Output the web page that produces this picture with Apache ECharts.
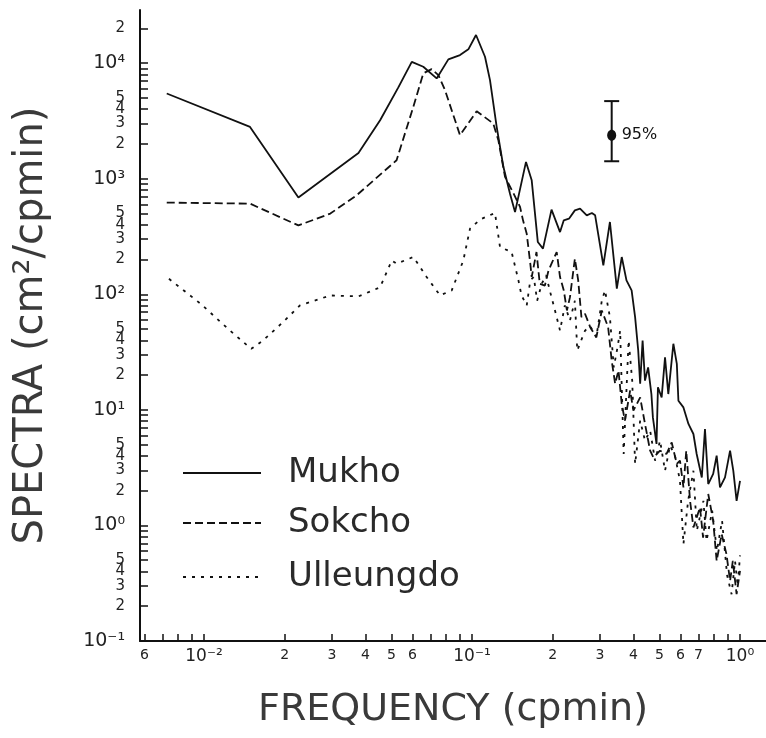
<!DOCTYPE html>
<html><head><meta charset="utf-8">
<script src="https://cdn.jsdelivr.net/npm/echarts@6/dist/echarts.min.js"></script>
<style>html,body{margin:0;padding:0;background:#fff}#c{width:766px;height:738px}</style>
</head><body><div id="c"></div>
<script>
// ---- data (frequency in cpmin, spectra in cm^2/cpmin) ----
const mukhoFreq = [0.00726,0.01485,0.0225,0.0377,0.0454,0.0531,0.0596,0.0658,0.0738,0.0816,0.0902,0.0969,0.1035,0.1118,0.1167,0.1236,0.131,0.1386,0.1447,0.159,0.167,0.176,0.184,0.198,0.213,0.220,0.230,0.242,0.253,0.268,0.280,0.288,0.309,0.327,0.347,0.362,0.377,0.394,0.406,0.417,0.424,0.433,0.442,0.454,0.467,0.473,0.488,0.494,0.510,0.525,0.540,0.564,0.581,0.589,0.615,0.642,0.670,0.689,0.720,0.740,0.761,0.794,0.818,0.842,0.879,0.918,0.944,0.971,1.0];
const mukhoSpec = [5460,2805,686,1671,3206,6160,10260,9290,7370,10770,11730,13150,17500,11350,7130,2805,1260,740,514,1396,968,283,248,540,345,436,451,532,551,482,505,482,178,422,112,210,132,108,63.4,32.6,16.8,39.8,17.9,23.3,13.7,8.6,5.07,15.7,12.8,28.5,13.7,37.3,25.0,12.0,10.5,7.55,6.18,4.15,2.60,6.83,2.28,2.79,4.01,2.13,2.60,4.43,2.97,1.63,2.43];

const sokchoFreq = [0.00726,0.01485,0.0225,0.0296,0.0371,0.0523,0.0604,0.0658,0.0707,0.0749,0.0793,0.0902,0.1041,0.120,0.1254,0.1328,0.1426,0.1511,0.155,0.160,0.165,0.167,0.174,0.179,0.187,0.193,0.198,0.207,0.213,0.220,0.226,0.232,0.242,0.249,0.256,0.264,0.276,0.291,0.305,0.322,0.332,0.342,0.352,0.362,0.372,0.389,0.400,0.424,0.442,0.462,0.475,0.503,0.532,0.556,0.581,0.597,0.615,0.630,0.651,0.670,0.709,0.728,0.761,0.794,0.818,0.854,0.890,0.918,0.940,0.971,1.0];
const sokchoSpec = [621,608,394,499,718,1443,4190,8150,8870,7870,5830,2377,3837,3003,2153,1035,752,569,436,334,184,141,232,123,119,161,184,232,141,108,72.4,94.4,203,132,63.4,67.8,51.9,42.5,72.4,51.9,26.7,16.8,21.9,11.2,8.06,14.7,9.84,12.8,7.55,4.43,3.87,4.43,4.15,5.22,3.4,3.63,2.13,4.43,1.63,0.96,1.43,0.785,1.87,1.10,0.493,0.841,0.564,0.331,0.493,0.254,0.404];

const ulleungdoFreq = [0.0074,0.0097,0.0125,0.0150,0.0166,0.0197,0.0228,0.0296,0.0377,0.0454,0.0502,0.0523,0.0604,0.0677,0.0760,0.0840,0.0928,0.0983,0.1071,0.1218,0.1272,0.1405,0.149,0.153,0.160,0.165,0.170,0.175,0.182,0.189,0.195,0.204,0.213,0.222,0.232,0.242,0.247,0.264,0.276,0.291,0.305,0.3135,0.327,0.338,0.350,0.357,0.368,0.384,0.396,0.406,0.424,0.442,0.462,0.482,0.503,0.525,0.548,0.572,0.597,0.615,0.640,0.670,0.690,0.730,0.750,0.787,0.820,0.857,0.895,0.930,0.958,0.980,1.0];
const ulleungdoSpec = [136,83,48.5,33.7,39.8,57.3,80,97.7,95.8,115,196,184,210,141,97.7,108,196,370,443,505,256,232,132,97.7,80,132,141,88,123,146,108,72.4,48.5,80,59.3,88,32.6,48.5,53,42.5,88,108,63.4,23.3,36,48.5,4.15,39.8,17.9,3.4,8.06,5.41,6.61,3.63,5.41,2.97,4.9,4.0,2.43,0.689,1.63,2.97,0.9,1.63,0.735,1.34,0.603,1.10,0.37,0.254,0.493,0.30,0.55];

// 95% confidence bar
const ciFreq = [0.332];
const ciLow = [1415];
const ciHigh = [4690];
const ciMid = [2378];
const ciLabel = '95%';

const seriesNames = ['Mukho','Sokcho','Ulleungdo'];

// ---- tick labels ----
const xTickValues = [0.006,0.007,0.008,0.009,0.01,0.02,0.03,0.04,0.05,0.06,0.07,0.08,0.09,0.1,0.2,0.3,0.4,0.5,0.6,0.7,0.8,0.9,1];
const xLabelValues = [0.006,0.01,0.02,0.03,0.04,0.05,0.06,0.1,0.2,0.3,0.4,0.5,0.6,0.7,1];
const xLabelTexts  = ['6','10⁻²','2','3','4','5','6','10⁻¹','2','3','4','5','6','7','10⁰'];

const yTickValues = [0.1,0.2,0.3,0.4,0.5,0.6,0.7,0.8,0.9,1,2,3,4,5,6,7,8,9,10,20,30,40,50,60,70,80,90,100,200,300,400,500,600,700,800,900,1000,2000,3000,4000,5000,6000,7000,8000,9000,10000,20000];
const yLabelValues = [0.1,0.2,0.3,0.4,0.5,1,2,3,4,5,10,20,30,40,50,100,200,300,400,500,1000,2000,3000,4000,5000,10000,20000];
const yLabelTexts  = ['10⁻¹','2','3','4','5','10⁰','2','3','4','5','10¹','2','3','4','5','10²','2','3','4','5','10³','2','3','4','5','10⁴','2'];

function pairs(f, s){ return f.map((v,i)=>[v, s[i]]); }
function labelFor(values, texts){
  return function(v){
    const i = values.findIndex(u => Math.abs(Math.log10(u) - Math.log10(v)) < 1e-6);
    if (i < 0) return '';
    const t = texts[i];
    return t.length > 1 ? '{dec|' + t + '}' : '{min|' + t + '}';
  };
}

const FONT = 'DejaVu Sans';
const INK = '#111';

const chart = echarts.init(document.getElementById('c'), null, {renderer:'canvas'});
const legendCommon = {
  orient:'horizontal', left:182, itemWidth:78, itemHeight:14, padding:0, selectedMode:false,
  itemStyle:{opacity:0, borderWidth:0},
  textStyle:{fontFamily:FONT, fontSize:34, color:'#2a2a2a', padding:[0,0,0,22]}
};
chart.setOption({
  animation:false,
  backgroundColor:'#fff',
  grid:{left:140, top:10, width:626, height:631, outerBoundsMode:'none', containLabel:false},
  legend:[
    Object.assign({data:[seriesNames[0]], top:456}, legendCommon),
    Object.assign({data:[seriesNames[1]], top:506}, legendCommon),
    Object.assign({data:[seriesNames[2]], top:560}, legendCommon)
  ],
  xAxis:{
    type:'log', logBase:10, min:0.00577, max:1.25,
    name:'FREQUENCY (cpmin)', nameLocation:'middle', nameGap:50,
    nameTextStyle:{fontFamily:FONT, fontSize:38, color:'#3a3a3a'},
    axisLine:{show:true, onZero:false, lineStyle:{color:INK, width:2}},
    axisTick:{show:true, inside:true, length:7, customValues:xTickValues, lineStyle:{color:INK, width:1.5}},
    minorTick:{show:false},
    splitLine:{show:false},
    axisLabel:{show:true, margin:7, customValues:xLabelValues, formatter:labelFor(xLabelValues, xLabelTexts),
      color:'#222', fontFamily:FONT,
      rich:{dec:{fontSize:17, fontFamily:FONT, color:'#222'}, min:{fontSize:14, fontFamily:FONT, color:'#222'}}}
  },
  yAxis:{
    type:'log', logBase:10, min:0.1, max:28800,
    name:'SPECTRA (cm²/cpmin)', nameLocation:'middle', nameGap:88,
    nameTextStyle:{fontFamily:FONT, fontSize:40, color:'#3a3a3a'},
    axisLine:{show:true, onZero:false, lineStyle:{color:INK, width:2}},
    axisTick:{show:true, inside:true, length:8, customValues:yTickValues, lineStyle:{color:INK, width:1.5}},
    minorTick:{show:false},
    splitLine:{show:false},
    axisLabel:{show:true, margin:15, customValues:yLabelValues, formatter:labelFor(yLabelValues, yLabelTexts),
      color:'#222', fontFamily:FONT,
      rich:{dec:{fontSize:19, fontFamily:FONT, color:'#222'}, min:{fontSize:15, fontFamily:FONT, color:'#222'}}}
  },
  series:[
    {name:seriesNames[0], type:'line', data:pairs(mukhoFreq, mukhoSpec), symbol:'none', showSymbol:false,
      itemStyle:{color:INK}, lineStyle:{color:INK, width:1.8, type:'solid'}, z:3},
    {name:seriesNames[1], type:'line', data:pairs(sokchoFreq, sokchoSpec), symbol:'none', showSymbol:false,
      itemStyle:{color:INK}, lineStyle:{color:INK, width:1.8, type:[8,4]}, z:2},
    {name:seriesNames[2], type:'line', data:pairs(ulleungdoFreq, ulleungdoSpec), symbol:'none', showSymbol:false,
      itemStyle:{color:INK}, lineStyle:{color:INK, width:1.8, type:[3,6]}, z:2},
    {name:'ci', type:'custom', coordinateSystem:'cartesian2d', silent:true, z:5,
      data: ciFreq.map((f,i)=>[f, ciLow[i], ciHigh[i], ciMid[i]]),
      encode:{x:0, y:[1,2,3]},
      renderItem:function(params, api){
        const x = api.value(0);
        const pL = api.coord([x, api.value(1)]);
        const pH = api.coord([x, api.value(2)]);
        const pM = api.coord([x, api.value(3)]);
        const w = 7.5;
        const st = {stroke:INK, lineWidth:2};
        return {type:'group', children:[
          {type:'line', shape:{x1:pL[0], y1:pL[1], x2:pH[0], y2:pH[1]}, style:st},
          {type:'line', shape:{x1:pL[0]-w, y1:pL[1], x2:pL[0]+w, y2:pL[1]}, style:st},
          {type:'line', shape:{x1:pH[0]-w, y1:pH[1], x2:pH[0]+w, y2:pH[1]}, style:st},
          {type:'ellipse', shape:{cx:pM[0], cy:pM[1], rx:4.5, ry:5.5}, style:{fill:INK}},
          {type:'text', x:pM[0]+10, y:pM[1], style:{text:ciLabel, fontSize:16, fontFamily:FONT, fill:INK, align:'left', verticalAlign:'middle'}}
        ]};
      }
    }
  ]
});
</script>
</body></html>
